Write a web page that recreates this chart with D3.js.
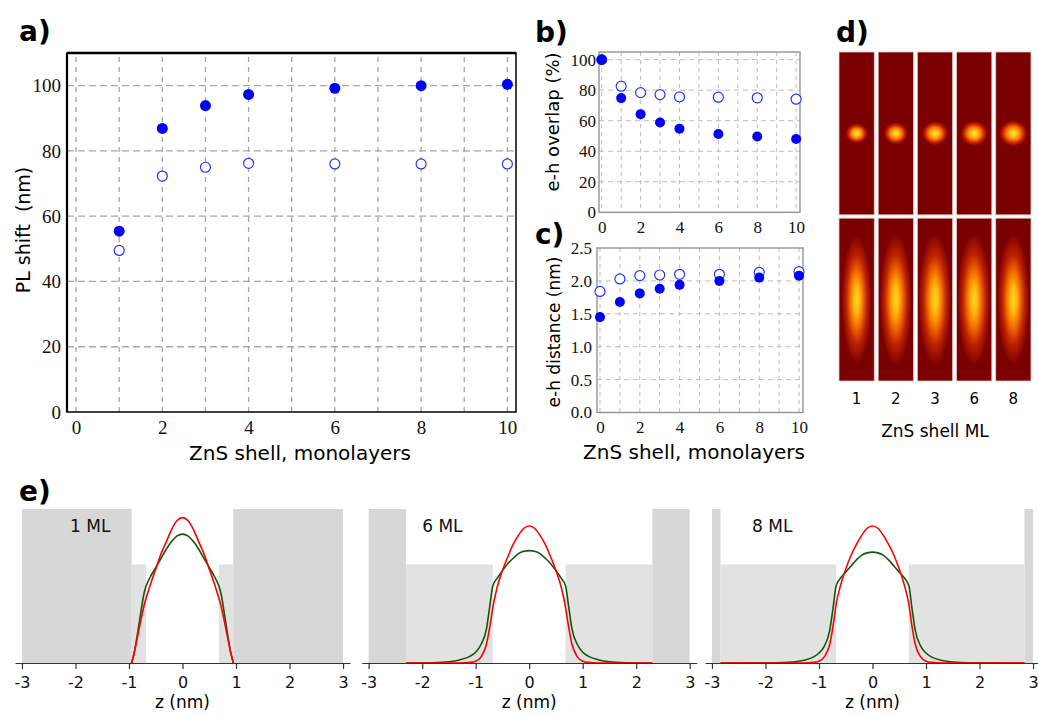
<!DOCTYPE html>
<html><head><meta charset="utf-8">
<script src="https://cdn.jsdelivr.net/npm/d3@7/dist/d3.min.js"></script>
<style>body{margin:0;background:#fff} svg{display:block}</style>
</head><body>
<svg id="fig" width="1038" height="716"></svg>
<script>
// ================= DATA =================
// panel a : PL shift vs ZnS shell
const shellA = [1, 2, 3, 4, 6, 8, 10];
const plFilled = [55.4, 86.9, 93.9, 97.3, 99.2, 100.0, 100.4];
const plOpen = [49.5, 72.3, 75.0, 76.2, 76.0, 76.0, 76.0];
const ticksAx = [0, 2, 4, 6, 8, 10];
const ticksAy = [0, 20, 40, 60, 80, 100];
// panels b, c
const shellBC = [0, 1, 2, 3, 4, 6, 8, 10];
const overlapFilled = [100, 74.8, 64.3, 58.8, 54.8, 51.3, 49.6, 48.0];
const overlapOpen = [100, 82.6, 78.4, 77.1, 75.6, 75.4, 75.0, 74.1];
const distFilled = [1.45, 1.68, 1.81, 1.88, 1.94, 2.00, 2.05, 2.08];
const distOpen = [1.84, 2.03, 2.08, 2.09, 2.10, 2.10, 2.13, 2.14];
const ticksBCx = [0, 2, 4, 6, 8, 10];
const ticksBy = [0, 20, 40, 60, 80, 100];
const ticksCy = [0, 0.5, 1.0, 1.5, 2.0, 2.5];
// panel d : density maps (spreads in arbitrary units)
const shellD = [1, 2, 3, 6, 8];
const elecSpreadX = [1.1, 1.2, 1.3, 1.35, 1.4];
const elecSpreadY = [1.0, 1.1, 1.2, 1.25, 1.3];
const holeSpreadX = [1.5, 1.6, 1.65, 1.65, 1.6];
const holeSpreadY = [6.4, 6.6, 6.6, 6.6, 6.5];
// panel e : potential profiles and densities
const eML = ["1 ML", "6 ML", "8 ML"];
const eShellEdge = [0.95, 2.30, 2.84];
const eCoreEdge = 0.68;
const eBarrierOuter = 1.0;
const eBarrierShell = 0.64;
const eZTicks = [-3, -2, -1, 0, 1, 2, 3];
const red1 = [[-0.95,0],[-0.9,0.07],[-0.8,0.24],[-0.72,0.37],[-0.68,0.42],[-0.6,0.51],[-0.5,0.61],[-0.4,0.71],[-0.3,0.79],[-0.2,0.87],[-0.1,0.925],[0,0.944],
  [0.1,0.925],[0.2,0.87],[0.3,0.79],[0.4,0.71],[0.5,0.61],[0.6,0.51],[0.68,0.42],[0.72,0.37],[0.8,0.24],[0.9,0.07],[0.95,0]];
const green1 = [[-0.95,0],[-0.9,0.07],[-0.8,0.28],[-0.72,0.45],[-0.68,0.50],[-0.6,0.56],[-0.5,0.62],[-0.4,0.68],[-0.3,0.74],[-0.2,0.79],[-0.1,0.825],[0,0.837],
  [0.1,0.825],[0.2,0.79],[0.3,0.74],[0.4,0.68],[0.5,0.62],[0.6,0.56],[0.68,0.50],[0.72,0.45],[0.8,0.28],[0.9,0.07],[0.95,0]];
const red6 = [[-2.3,0],[-1.3,0],[-1.1,0.004],[-1.0,0.012],[-0.9,0.04],[-0.8,0.12],[-0.72,0.27],[-0.68,0.36],[-0.6,0.49],[-0.5,0.60],[-0.4,0.69],[-0.3,0.77],[-0.2,0.83],[-0.1,0.875],[0,0.89],
  [0.1,0.875],[0.2,0.83],[0.3,0.77],[0.4,0.69],[0.5,0.60],[0.6,0.49],[0.68,0.36],[0.72,0.27],[0.8,0.12],[0.9,0.04],[1.0,0.012],[1.1,0.004],[1.3,0],[2.3,0]];
const green6 = [[-2.3,0],[-1.8,0.002],[-1.5,0.008],[-1.3,0.02],[-1.1,0.045],[-1.0,0.07],[-0.9,0.12],[-0.8,0.22],[-0.74,0.36],[-0.68,0.50],[-0.6,0.55],[-0.5,0.60],[-0.4,0.645],[-0.3,0.68],[-0.2,0.71],[-0.1,0.725],[0,0.73],
  [0.1,0.725],[0.2,0.71],[0.3,0.68],[0.4,0.645],[0.5,0.60],[0.6,0.55],[0.68,0.50],[0.74,0.36],[0.8,0.22],[0.9,0.12],[1.0,0.07],[1.1,0.045],[1.3,0.02],[1.5,0.008],[1.8,0.002],[2.3,0]];
const red8 = [[-2.84,0],[-1.3,0],[-1.1,0.004],[-1.0,0.012],[-0.9,0.04],[-0.8,0.12],[-0.72,0.28],[-0.68,0.38],[-0.6,0.50],[-0.5,0.61],[-0.4,0.70],[-0.3,0.77],[-0.2,0.83],[-0.1,0.875],[0,0.89],
  [0.1,0.875],[0.2,0.83],[0.3,0.77],[0.4,0.70],[0.5,0.61],[0.6,0.50],[0.68,0.38],[0.72,0.28],[0.8,0.12],[0.9,0.04],[1.0,0.012],[1.1,0.004],[1.3,0],[2.84,0]];
const green8 = [[-2.84,0],[-1.8,0.001],[-1.5,0.006],[-1.3,0.016],[-1.1,0.04],[-1.0,0.065],[-0.9,0.11],[-0.8,0.21],[-0.74,0.35],[-0.68,0.50],[-0.6,0.55],[-0.5,0.59],[-0.4,0.63],[-0.3,0.67],[-0.2,0.70],[-0.1,0.715],[0,0.72],
  [0.1,0.715],[0.2,0.70],[0.3,0.67],[0.4,0.63],[0.5,0.59],[0.6,0.55],[0.68,0.50],[0.74,0.35],[0.8,0.21],[0.9,0.11],[1.0,0.065],[1.1,0.04],[1.3,0.016],[1.5,0.006],[1.8,0.001],[2.84,0]];

// ================= DRAWING =================
const svg = d3.select("#fig");
const SERIF = "'Liberation Serif','Times New Roman',serif";
const SANS = "'DejaVu Sans',sans-serif";
const BLUE = "#0000ff", OPEN = "#2436ff";

function label(t, x, y) {
  svg.append("text").attr("x", x).attr("y", y).attr("font-family", SANS)
    .attr("font-weight", "bold").attr("font-size", 28).attr("fill", "#000").text(t);
}
function styleAxis(g, font, size) {
  g.select(".domain").remove();
  g.selectAll("text").attr("font-family", font).attr("font-size", size).attr("fill", "#111");
}

// ---------- Panel a ----------
(function () {
  const x = d3.scaleLinear().domain([-0.21, 10.2]).range([67, 516]);
  const y = d3.scaleLinear().domain([0, 110]).range([412, 53]);
  const g = svg.append("g");
  g.append("g").selectAll("line").data(x.ticks(10).filter(d => d >= 0)).join("line")
    .attr("x1", d => x(d)).attr("x2", d => x(d)).attr("y1", y.range()[1] + 4).attr("y2", y.range()[0])
    .attr("stroke", "#a6a6a6").attr("stroke-width", 1.3).attr("stroke-dasharray", "5,5");
  g.append("g").selectAll("line").data(ticksAy.filter(d => d > 0)).join("line")
    .attr("x1", x.range()[0]).attr("x2", x.range()[1]).attr("y1", d => y(d)).attr("y2", d => y(d))
    .attr("stroke", "#a6a6a6").attr("stroke-width", 1.3).attr("stroke-dasharray", "7,4");
  g.append("rect").attr("x", x.range()[0]).attr("y", y.range()[1])
    .attr("width", x.range()[1] - x.range()[0]).attr("height", y.range()[0] - y.range()[1])
    .attr("fill", "none").attr("stroke", "#111").attr("stroke-width", 1.6);
  g.append("line").attr("x1", x.range()[0]).attr("x2", x.range()[1]).attr("y1", y.range()[1]).attr("y2", y.range()[1])
    .attr("stroke", "#000").attr("stroke-width", 2.4);
  g.append("line").attr("x1", x.range()[0]).attr("x2", x.range()[0]).attr("y1", y.range()[1]).attr("y2", y.range()[0])
    .attr("stroke", "#000").attr("stroke-width", 2.2);
  const ay = g.append("g").attr("transform", `translate(${x.range()[0]},0)`)
    .call(d3.axisLeft(y).tickValues(ticksAy).tickSize(0).tickPadding(6));
  styleAxis(ay, SERIF, 19);
  const ax = g.append("g").attr("transform", `translate(0,${y.range()[0]})`)
    .call(d3.axisBottom(x).tickValues(ticksAx).tickSize(0).tickPadding(8.5));
  styleAxis(ax, SERIF, 19);
  g.selectAll("circle.o").data(shellA.map((s, i) => [s, plOpen[i]])).join("circle").attr("class", "o")
    .attr("cx", d => x(d[0])).attr("cy", d => y(d[1])).attr("r", 5)
    .attr("fill", "#fff").attr("stroke", OPEN).attr("stroke-width", 1.2);
  g.selectAll("circle.f").data(shellA.map((s, i) => [s, plFilled[i]])).join("circle").attr("class", "f")
    .attr("cx", d => x(d[0])).attr("cy", d => y(d[1])).attr("r", 5.5).attr("fill", BLUE);
  g.append("text").attr("transform", "translate(30,230) rotate(-90)").attr("text-anchor", "middle")
    .attr("font-family", SANS).attr("font-size", 19).attr("fill", "#000").text("PL shift\u00a0 (nm)");
  g.append("text").attr("x", 300).attr("y", 460).attr("text-anchor", "middle")
    .attr("font-family", SANS).attr("font-size", 20).attr("fill", "#000").text("ZnS shell, monolayers");
})();
label("a)", 19, 41);

// ---------- Panels b & c ----------
function smallPanel(cfg) {
  const x = d3.scaleLinear().domain(cfg.xd).range(cfg.xr);
  const y = d3.scaleLinear().domain(cfg.yd).range(cfg.yr);
  const g = svg.append("g");
  g.append("g").selectAll("line").data(x.ticks(10).filter(d => d >= 0)).join("line")
    .attr("x1", d => x(d)).attr("x2", d => x(d)).attr("y1", y.range()[1]).attr("y2", y.range()[0])
    .attr("stroke", "#bdbdbd").attr("stroke-width", 1).attr("stroke-dasharray", "4,4");
  g.append("g").selectAll("line").data(cfg.yt.filter(d => d > cfg.yd[0] && d < cfg.yd[1] - 1e-9)).join("line")
    .attr("x1", x.range()[0]).attr("x2", x.range()[1]).attr("y1", d => y(d)).attr("y2", d => y(d))
    .attr("stroke", "#bdbdbd").attr("stroke-width", 1).attr("stroke-dasharray", "5,4");
  g.append("rect").attr("x", x.range()[0]).attr("y", y.range()[1])
    .attr("width", x.range()[1] - x.range()[0]).attr("height", y.range()[0] - y.range()[1])
    .attr("fill", "none").attr("stroke", "#8c8c8c").attr("stroke-width", 1.3);
  const ay = g.append("g").attr("transform", `translate(${x.range()[0]},0)`)
    .call(d3.axisLeft(y).tickValues(cfg.yt).tickFormat(cfg.yf).tickSize(0).tickPadding(cfg.ypad));
  styleAxis(ay, SERIF, 17);
  const ax = g.append("g").attr("transform", `translate(0,${y.range()[0]})`)
    .call(d3.axisBottom(x).tickValues(ticksBCx).tickSize(0).tickPadding(8.5));
  styleAxis(ax, SERIF, 17);
  g.selectAll("circle.o").data(shellBC.map((s, i) => [s, cfg.open[i]])).join("circle").attr("class", "o")
    .attr("cx", d => x(d[0])).attr("cy", d => y(d[1])).attr("r", 5)
    .attr("fill", "#fff").attr("stroke", OPEN).attr("stroke-width", 1.2);
  g.selectAll("circle.f").data(shellBC.map((s, i) => [s, cfg.filled[i]])).join("circle").attr("class", "f")
    .attr("cx", d => x(d[0])).attr("cy", d => y(d[1])).attr("r", 5).attr("fill", BLUE);
  g.append("text").attr("transform", `translate(${cfg.tx},${cfg.ty}) rotate(-90)`).attr("text-anchor", "middle")
    .attr("font-family", SANS).attr("font-size", cfg.ts).attr("fill", "#000").text(cfg.title);
}
smallPanel({ xd: [-0.14, 10.2], xr: [599, 800], yd: [0, 105], yr: [212.3, 52], yt: ticksBy, yf: d3.format("d"), ypad: 3,
  open: overlapOpen, filled: overlapFilled, title: "e-h overlap (%)", tx: 559, ty: 122, ts: 18 });
smallPanel({ xd: [-0.15, 10.2], xr: [597, 803], yd: [0, 2.5], yr: [412.5, 248], yt: ticksCy, yf: d3.format(".1f"), ypad: 5,
  open: distOpen, filled: distFilled, title: "e-h distance (nm)", tx: 560, ty: 332, ts: 17 });
svg.append("text").attr("x", 694).attr("y", 459).attr("text-anchor", "middle")
  .attr("font-family", SANS).attr("font-size", 20).attr("fill", "#000").text("ZnS shell, monolayers");
label("b)", 535, 42);
label("c)", 535, 244);

// ---------- Panel d ----------
(function () {
  const BG = "#7b0000";
  const defs = svg.append("defs");
  const ge = defs.append("radialGradient").attr("id", "gElec");
  [[0, "#ffe040"], [0.25, "#ffc21c"], [0.5, "#ff7800"], [0.75, "#c42200"], [1, BG]]
    .forEach(s => ge.append("stop").attr("offset", s[0]).attr("stop-color", s[1]));
  const gh = defs.append("radialGradient").attr("id", "gHole");
  [[0, "#ffd520"], [0.2, "#ffb810"], [0.42, "#f57000"], [0.68, "#bf2400"], [1, BG]]
    .forEach(s => gh.append("stop").attr("offset", s[0]).attr("stop-color", s[1]));
  const col = d3.scaleBand().domain(shellD).range([839, 1031]).paddingInner(0.1);
  const row = d3.scaleBand().domain(["e", "h"]).range([52, 381]).paddingInner(0.02);
  const px = d3.scaleLinear().domain([0, 1]).range([0, 10]);
  const g = svg.append("g");
  shellD.forEach((s, i) => {
    ["e", "h"].forEach(r => {
      const cx = col(s) + col.bandwidth() / 2, cy = row(r) + row.bandwidth() / 2;
      g.append("rect").attr("x", col(s)).attr("y", row(r)).attr("width", col.bandwidth()).attr("height", row.bandwidth())
        .attr("fill", BG).attr("stroke", "#e4c4c4").attr("stroke-width", 0.8);
      g.append("ellipse").attr("cx", cx).attr("cy", cy)
        .attr("rx", px(r === "e" ? elecSpreadX[i] : holeSpreadX[i]))
        .attr("ry", px(r === "e" ? elecSpreadY[i] : holeSpreadY[i]))
        .attr("fill", r === "e" ? "url(#gElec)" : "url(#gHole)");
    });
    g.append("text").attr("x", col(s) + col.bandwidth() / 2).attr("y", 404).attr("text-anchor", "middle")
      .attr("font-family", SANS).attr("font-size", 15).attr("fill", "#000").text(s);
  });
  g.append("text").attr("x", 935).attr("y", 437).attr("text-anchor", "middle")
    .attr("font-family", SANS).attr("font-size", 17).attr("fill", "#000").text("ZnS shell ML");
})();
label("d)", 836, 42);

// ---------- Panel e ----------
(function () {
  const ranges = [[15, 350], [361.7, 696.7], [705, 1040]];
  const reds = [red1, red6, red8], greens = [green1, green6, green8];
  const labelZ = [-2.1, -2.0, -2.25];
  const y = d3.scaleLinear().domain([0, 1]).range([663, 509]);
  eML.forEach((ml, i) => {
    const x = d3.scaleLinear().domain([-3.13, 3.13]).range(ranges[i]);
    const g = svg.append("g");
    const edge = eShellEdge[i];
    [[-3, -edge], [edge, 3]].forEach(b => g.append("rect").attr("x", x(b[0])).attr("width", x(b[1]) - x(b[0]))
      .attr("y", y(eBarrierOuter)).attr("height", y(0) - y(eBarrierOuter)).attr("fill", "#d7d7d7"));
    [[-edge, -eCoreEdge], [eCoreEdge, edge]].forEach(b => g.append("rect").attr("x", x(b[0])).attr("width", x(b[1]) - x(b[0]))
      .attr("y", y(eBarrierShell)).attr("height", y(0) - y(eBarrierShell)).attr("fill", "#e2e2e2"));
    const line = d3.line().x(d => x(d[0])).y(d => y(d[1])).curve(d3.curveMonotoneX);
    g.append("path").attr("d", line(greens[i])).attr("fill", "none").attr("stroke", "#0d5a0d").attr("stroke-width", 1.6);
    g.append("path").attr("d", line(reds[i])).attr("fill", "none").attr("stroke", "#ff0000").attr("stroke-width", 1.6);
    const ax = g.append("g").attr("transform", `translate(0,${y(0)})`)
      .call(d3.axisBottom(x).tickValues(eZTicks).tickFormat(d => String(d)).tickSize(6).tickSizeOuter(0).tickPadding(8));
    ax.select(".domain").attr("stroke", "#333").attr("stroke-width", 1.2);
    ax.selectAll(".tick line").attr("stroke", "#333").attr("stroke-width", 1.2);
    ax.selectAll("text").attr("font-family", SANS).attr("font-size", 16).attr("fill", "#111");
    g.append("text").attr("x", x(0)).attr("y", 708).attr("text-anchor", "middle")
      .attr("font-family", SANS).attr("font-size", 17).attr("fill", "#000").text("z (nm)");
    g.append("text").attr("x", x(labelZ[i])).attr("y", 532)
      .attr("font-family", SANS).attr("font-size", 17).attr("fill", "#111").text(ml);
  });
})();
label("e)", 19, 501);
</script>
</body></html>
